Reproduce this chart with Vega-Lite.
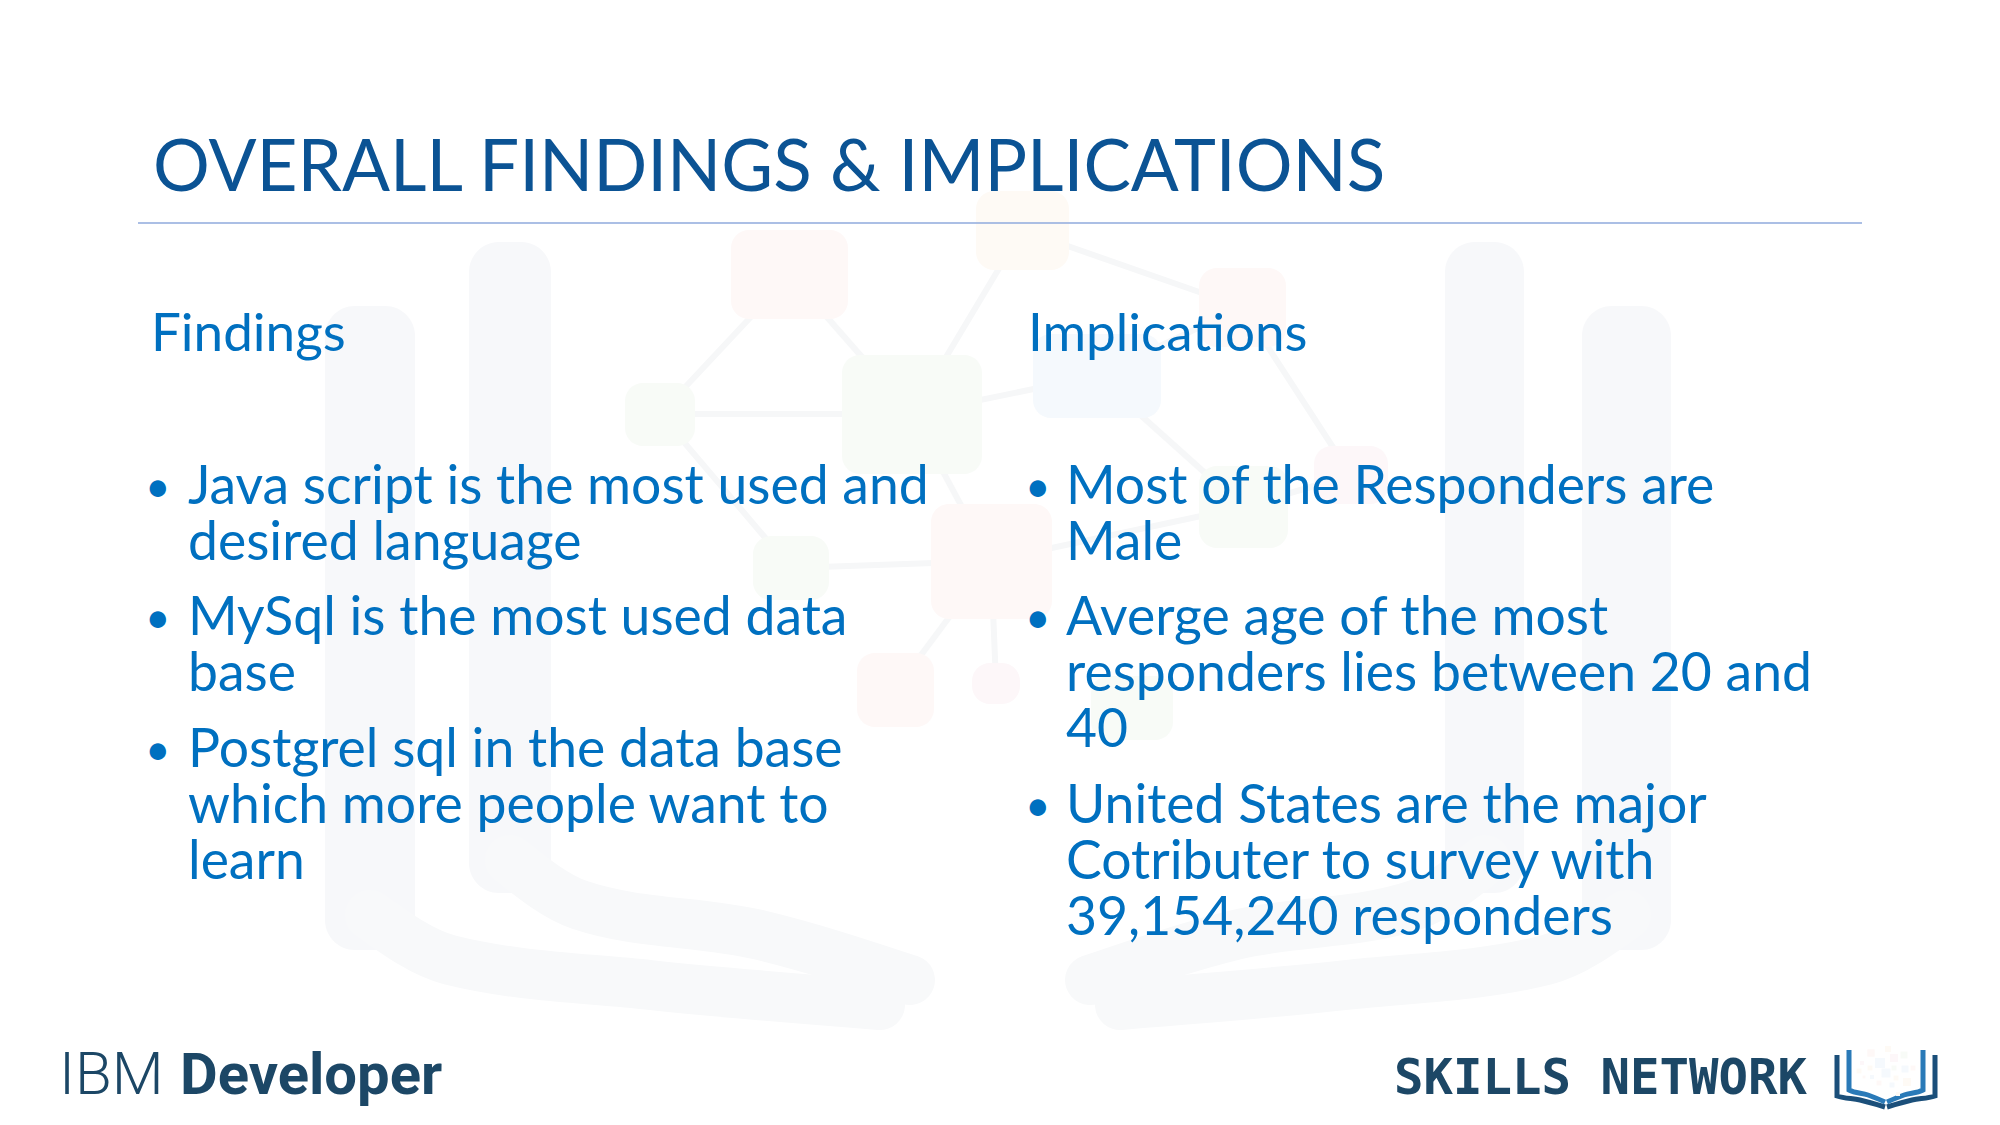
{
  "$schema": "https://vega.github.io/schema/vega-lite/v6.json",
  "width": 2000,
  "height": 1125,
  "autosize": {"type": "fit", "contains": "padding"},
  "padding": 0,
  "background": "white",
  "config": {"view": {"stroke": null}},
  "datasets": {
    "wmbars": [
      {"x": 325, "x2": 415, "y": 306, "y2": 950},
      {"x": 469, "x2": 551, "y": 242, "y2": 893},
      {"x": 1445, "x2": 1524, "y": 242, "y2": 893},
      {"x": 1582, "x2": 1671, "y": 306, "y2": 950}
    ],
    "bands": [
      {"p": "LO", "o": 1, "x": 370, "y": 915},
      {"p": "LO", "o": 2, "x": 450, "y": 960},
      {"p": "LO", "o": 3, "x": 650, "y": 985},
      {"p": "LO", "o": 4, "x": 880, "y": 1005},
      {"p": "LI", "o": 1, "x": 510, "y": 860},
      {"p": "LI", "o": 2, "x": 580, "y": 905},
      {"p": "LI", "o": 3, "x": 760, "y": 935},
      {"p": "LI", "o": 4, "x": 910, "y": 980},
      {"p": "RO", "o": 1, "x": 1626, "y": 915},
      {"p": "RO", "o": 2, "x": 1546, "y": 960},
      {"p": "RO", "o": 3, "x": 1346, "y": 985},
      {"p": "RO", "o": 4, "x": 1120, "y": 1005},
      {"p": "RI", "o": 1, "x": 1485, "y": 860},
      {"p": "RI", "o": 2, "x": 1415, "y": 905},
      {"p": "RI", "o": 3, "x": 1235, "y": 935},
      {"p": "RI", "o": 4, "x": 1090, "y": 980}
    ],
    "edges": [
      {"x": 790, "y": 275, "x2": 912, "y2": 414},
      {"x": 1022, "y": 230, "x2": 912, "y2": 414},
      {"x": 912, "y": 414, "x2": 660, "y2": 414},
      {"x": 912, "y": 414, "x2": 1097, "y2": 376},
      {"x": 1022, "y": 230, "x2": 1242, "y2": 307},
      {"x": 1097, "y": 376, "x2": 1242, "y2": 307},
      {"x": 912, "y": 414, "x2": 991, "y2": 561},
      {"x": 991, "y": 561, "x2": 791, "y2": 568},
      {"x": 991, "y": 561, "x2": 895, "y2": 690},
      {"x": 991, "y": 561, "x2": 996, "y2": 683},
      {"x": 1097, "y": 376, "x2": 1243, "y2": 507},
      {"x": 1243, "y": 507, "x2": 1351, "y2": 475},
      {"x": 660, "y": 414, "x2": 791, "y2": 568},
      {"x": 1242, "y": 307, "x2": 1351, "y2": 475},
      {"x": 991, "y": 561, "x2": 1243, "y2": 507},
      {"x": 790, "y": 275, "x2": 660, "y2": 414}
    ],
    "nodes": [
      {"x": 731, "x2": 848, "y": 230, "y2": 319, "k": "red"},
      {"x": 976, "x2": 1069, "y": 191, "y2": 270, "k": "orange"},
      {"x": 842, "x2": 982, "y": 355, "y2": 474, "k": "green"},
      {"x": 625, "x2": 695, "y": 383, "y2": 446, "k": "green"},
      {"x": 1033, "x2": 1161, "y": 334, "y2": 418, "k": "blue"},
      {"x": 1199, "x2": 1286, "y": 268, "y2": 347, "k": "red"},
      {"x": 1314, "x2": 1388, "y": 446, "y2": 504, "k": "pink"},
      {"x": 1199, "x2": 1288, "y": 466, "y2": 548, "k": "green"},
      {"x": 931, "x2": 1052, "y": 504, "y2": 619, "k": "red"},
      {"x": 753, "x2": 829, "y": 536, "y2": 600, "k": "green"},
      {"x": 857, "x2": 934, "y": 653, "y2": 727, "k": "red"},
      {"x": 972, "x2": 1020, "y": 663, "y2": 704, "k": "pink"},
      {"x": 1091, "x2": 1173, "y": 676, "y2": 740, "k": "green"}
    ],
    "title": [{"t": "OVERALL FINDINGS & IMPLICATIONS", "x": 153, "y": 191}],
    "hline": [{"x": 138, "x2": 1862, "y": 223}],
    "heads": [
      {"t": "Findings", "x": 151, "y": 351},
      {"t": "Implications", "x": 1028, "y": 351}
    ],
    "body": [
      {"t": "Java script is the most used and\ndesired language", "x": 188, "y": 504},
      {"t": "MySql is the most used data\nbase", "x": 188, "y": 635},
      {"t": "Postgrel sql in the data base\nwhich more people want to\nlearn", "x": 188, "y": 767},
      {"t": "Most of the Responders are\nMale", "x": 1066, "y": 504},
      {"t": "Averge age of the most\nresponders lies between 20 and\n40", "x": 1066, "y": 635},
      {"t": "United States are the major\nCotributer to survey with\n39,154,240 responders", "x": 1066, "y": 823}
    ],
    "bullets": [
      {"t": "•", "x": 145, "y": 502},
      {"t": "•", "x": 145, "y": 633},
      {"t": "•", "x": 145, "y": 765},
      {"t": "•", "x": 1025, "y": 502},
      {"t": "•", "x": 1025, "y": 633},
      {"t": "•", "x": 1025, "y": 821}
    ],
    "ibm": [{"t": "IBM", "x": 59, "y": 1094}],
    "dev": [{"t": "Developer", "x": 180, "y": 1094}],
    "skills": [{"t": "SKILLS NETWORK", "x": 1394, "y": 1094}],
    "book": [
      {"p": "L1", "o": 1, "x": 1837, "y": 1055},
      {"p": "L1", "o": 2, "x": 1837, "y": 1096},
      {"p": "L1", "o": 3, "x": 1860, "y": 1100},
      {"p": "L1", "o": 4, "x": 1885, "y": 1107},
      {"p": "R1", "o": 1, "x": 1935, "y": 1055},
      {"p": "R1", "o": 2, "x": 1935, "y": 1096},
      {"p": "R1", "o": 3, "x": 1912, "y": 1100},
      {"p": "R1", "o": 4, "x": 1887, "y": 1107}
    ],
    "book2": [
      {"p": "L2", "o": 1, "x": 1849, "y": 1050},
      {"p": "L2", "o": 2, "x": 1849, "y": 1090},
      {"p": "L2", "o": 3, "x": 1868, "y": 1095},
      {"p": "L2", "o": 4, "x": 1885, "y": 1102},
      {"p": "R2", "o": 1, "x": 1923, "y": 1050},
      {"p": "R2", "o": 2, "x": 1923, "y": 1090},
      {"p": "R2", "o": 3, "x": 1904, "y": 1095},
      {"p": "R2", "o": 4, "x": 1887, "y": 1102}
    ],
    "sq": [
      {"x": 1871, "y": 1053, "c": "a", "s": 55},
      {"x": 1888, "y": 1049, "c": "b", "s": 36},
      {"x": 1904, "y": 1055, "c": "c", "s": 49},
      {"x": 1880, "y": 1063, "c": "d", "s": 100},
      {"x": 1894, "y": 1058, "c": "e", "s": 64},
      {"x": 1905, "y": 1069, "c": "d", "s": 49},
      {"x": 1913, "y": 1068, "c": "f", "s": 25},
      {"x": 1870, "y": 1068, "c": "g", "s": 25},
      {"x": 1859, "y": 1071, "c": "b", "s": 25},
      {"x": 1894, "y": 1068, "c": "h", "s": 25},
      {"x": 1886, "y": 1073, "c": "i", "s": 81},
      {"x": 1907, "y": 1082, "c": "g", "s": 64},
      {"x": 1879, "y": 1083, "c": "f", "s": 25},
      {"x": 1892, "y": 1085, "c": "d", "s": 25},
      {"x": 1862, "y": 1063, "c": "j", "s": 16},
      {"x": 1898, "y": 1094, "c": "b", "s": 16},
      {"x": 1864, "y": 1077, "c": "a", "s": 9},
      {"x": 1872, "y": 1077, "c": "d", "s": 16},
      {"x": 1896, "y": 1078, "c": "g", "s": 25}
    ]
  },
  "layer": [
    {
      "data": {"name": "wmbars"},
      "mark": {"type": "rect", "color": "#f7f8fa", "cornerRadius": 30},
      "encoding": {
        "x": {"field": "x", "type": "quantitative", "scale": {"domain": [0, 2000], "nice": false}, "axis": null},
        "x2": {"field": "x2"},
        "y": {"field": "y", "type": "quantitative", "scale": {"domain": [0, 1125], "nice": false, "reverse": true}, "axis": null},
        "y2": {"field": "y2"}
      }
    },
    {
      "data": {"name": "bands"},
      "mark": {"type": "line", "color": "#f8f9fa", "strokeWidth": 50, "strokeCap": "round", "interpolate": "monotone"},
      "encoding": {
        "x": {"field": "x", "type": "quantitative"},
        "y": {"field": "y", "type": "quantitative"},
        "detail": {"field": "p"},
        "order": {"field": "o"}
      }
    },
    {
      "data": {"name": "edges"},
      "mark": {"type": "rule", "color": "#f6f7f8", "strokeWidth": 6},
      "encoding": {
        "x": {"field": "x", "type": "quantitative"},
        "x2": {"field": "x2"},
        "y": {"field": "y", "type": "quantitative"},
        "y2": {"field": "y2"}
      }
    },
    {
      "data": {"name": "nodes"},
      "mark": {"type": "rect", "cornerRadius": 18},
      "encoding": {
        "x": {"field": "x", "type": "quantitative"},
        "x2": {"field": "x2"},
        "y": {"field": "y", "type": "quantitative"},
        "y2": {"field": "y2"},
        "color": {
          "field": "k",
          "type": "nominal",
          "legend": null,
          "scale": {
            "domain": ["red", "orange", "green", "blue", "pink"],
            "range": ["#fef8f7", "#fefaf5", "#f8fbf7", "#f5f9fd", "#fdf7f9"]
          }
        }
      }
    },
    {
      "data": {"name": "hline"},
      "mark": {"type": "rule", "color": "#8faadc", "strokeWidth": 1.5},
      "encoding": {
        "x": {"field": "x", "type": "quantitative"},
        "x2": {"field": "x2"},
        "y": {"field": "y", "type": "quantitative"}
      }
    },
    {
      "data": {"name": "title"},
      "mark": {"type": "text", "align": "left", "baseline": "alphabetic", "font": "Lato", "fontWeight": 400, "fontSize": 71, "color": "#0b5394"},
      "encoding": {
        "x": {"field": "x", "type": "quantitative"},
        "y": {"field": "y", "type": "quantitative"},
        "text": {"field": "t"}
      }
    },
    {
      "data": {"name": "heads"},
      "mark": {"type": "text", "align": "left", "baseline": "alphabetic", "font": "Lato", "fontSize": 53, "color": "#0070c0"},
      "encoding": {
        "x": {"field": "x", "type": "quantitative"},
        "y": {"field": "y", "type": "quantitative"},
        "text": {"field": "t"}
      }
    },
    {
      "data": {"name": "body"},
      "mark": {"type": "text", "align": "left", "baseline": "alphabetic", "font": "Lato", "fontSize": 53.5, "lineBreak": "\n", "lineHeight": 56, "color": "#0070c0"},
      "encoding": {
        "x": {"field": "x", "type": "quantitative"},
        "y": {"field": "y", "type": "quantitative"},
        "text": {"field": "t"}
      }
    },
    {
      "data": {"name": "bullets"},
      "mark": {"type": "text", "align": "left", "baseline": "alphabetic", "font": "Lato", "fontSize": 44, "color": "#0070c0"},
      "encoding": {
        "x": {"field": "x", "type": "quantitative"},
        "y": {"field": "y", "type": "quantitative"},
        "text": {"field": "t"}
      }
    },
    {
      "data": {"name": "ibm"},
      "mark": {"type": "text", "align": "left", "baseline": "alphabetic", "font": "Roboto", "fontWeight": 300, "fontSize": 60, "color": "#1c4766"},
      "encoding": {
        "x": {"field": "x", "type": "quantitative"},
        "y": {"field": "y", "type": "quantitative"},
        "text": {"field": "t"}
      }
    },
    {
      "data": {"name": "dev"},
      "mark": {"type": "text", "align": "left", "baseline": "alphabetic", "font": "Roboto", "fontWeight": "bold", "fontSize": 58, "color": "#1c4766"},
      "encoding": {
        "x": {"field": "x", "type": "quantitative"},
        "y": {"field": "y", "type": "quantitative"},
        "text": {"field": "t"}
      }
    },
    {
      "data": {"name": "skills"},
      "mark": {"type": "text", "align": "left", "baseline": "alphabetic", "font": "DejaVu Sans Mono", "fontWeight": "bold", "fontSize": 49, "color": "#1c4766"},
      "encoding": {
        "x": {"field": "x", "type": "quantitative"},
        "y": {"field": "y", "type": "quantitative"},
        "text": {"field": "t"}
      }
    },
    {
      "data": {"name": "book"},
      "mark": {"type": "line", "color": "#1b4f7a", "strokeWidth": 5, "interpolate": "monotone"},
      "encoding": {
        "x": {"field": "x", "type": "quantitative"},
        "y": {"field": "y", "type": "quantitative"},
        "detail": {"field": "p"},
        "order": {"field": "o"}
      }
    },
    {
      "data": {"name": "book2"},
      "mark": {"type": "line", "color": "#2a7ab8", "strokeWidth": 5, "interpolate": "monotone"},
      "encoding": {
        "x": {"field": "x", "type": "quantitative"},
        "y": {"field": "y", "type": "quantitative"},
        "detail": {"field": "p"},
        "order": {"field": "o"}
      }
    },
    {
      "data": {"name": "sq"},
      "mark": {"type": "point", "shape": "square", "filled": true, "opacity": 1},
      "encoding": {
        "x": {"field": "x", "type": "quantitative"},
        "y": {"field": "y", "type": "quantitative"},
        "size": {"field": "s", "type": "quantitative", "scale": null, "legend": null},
        "color": {
          "field": "c",
          "type": "nominal",
          "legend": null,
          "scale": {
            "domain": ["a", "b", "c", "d", "e", "f", "g", "h", "i", "j"],
            "range": ["#e53935", "#f0a030", "#b0164a", "#5cb84a", "#29b6e6", "#e0207a", "#a8d040", "#2f88d8", "#f26522", "#9aa8b8"]
          }
        }
      }
    }
  ]
}
